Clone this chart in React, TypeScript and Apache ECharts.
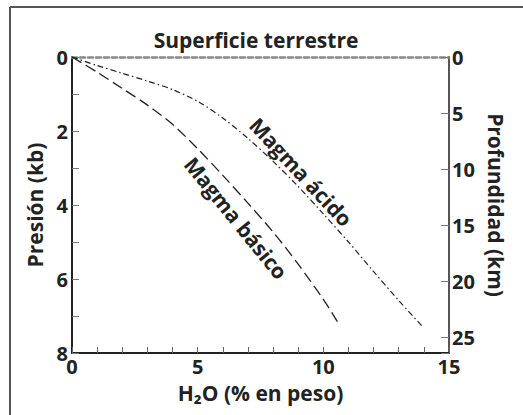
import React, { useEffect, useRef } from "react";
import * as echarts from "echarts";

const basicH2O = [0, 1, 2, 3, 4, 5, 6, 7, 8, 9, 10, 10.56];
const basicP = [0, 0.41, 0.85, 1.3, 1.82, 2.48, 3.2, 3.95, 4.73, 5.6, 6.55, 7.15];
const acidH2O = [0, 1, 2, 3, 4, 5, 6, 7, 8, 9, 10, 11, 12, 13, 13.95];
const acidP = [0, 0.23, 0.44, 0.65, 0.88, 1.2, 1.65, 2.2, 2.82, 3.5, 4.24, 5.0, 5.8, 6.58, 7.29];
const xTicks = [0, 5, 10, 15];
const pressureLabels = [0, 2, 4, 6, 8];
const depthTicks = [0, 5, 10, 15, 20, 25];

const FONT = "Open Sans";

export default function App() {
  const ref = useRef<HTMLDivElement>(null);
  useEffect(() => {
    const chart = echarts.init(ref.current!, null, { renderer: "svg" });
    const basicData = basicH2O.map((x, i) => [x, basicP[i]]);
    const acidData = acidH2O.map((x, i) => [x, acidP[i]]);
    const deg = Math.PI / 180;
    chart.setOption({
      animation: false,
      backgroundColor: "#fff",
      textStyle: { fontFamily: FONT },
      grid: { left: 72, right: 74, top: 57, bottom: 62 },
      xAxis: [
        {
          type: "value",
          min: 0,
          max: 15,
          interval: 1,
          position: "bottom",
          axisLine: { onZero: false, lineStyle: { color: "#222", width: 2 } },
          axisTick: { inside: true, length: 6, lineStyle: { color: "#666", width: 1 } },
          axisLabel: {
            formatter: (v: number) => (xTicks.includes(v) ? String(v) : ""),
            color: "#222",
            fontWeight: "bold",
            fontSize: 20,
            fontFamily: FONT,
            margin: 3,
          },
          splitLine: { show: false },
          name: "H\u2082O (% en peso)",
          nameLocation: "middle",
          nameGap: 29,
          nameTextStyle: { color: "#222", fontWeight: "bold", fontSize: 21, fontFamily: FONT, verticalAlign: "top" },
        },
        {
          type: "value",
          min: 0,
          max: 15,
          position: "top",
          axisLine: { onZero: false, lineStyle: { color: "#888", width: 2.5, type: [5, 3] } },
          axisTick: { show: false },
          axisLabel: { show: false },
          splitLine: { show: false },
        },
      ],
      yAxis: [
        {
          type: "value",
          min: 0,
          max: 8,
          interval: 1,
          inverse: true,
          position: "left",
          axisLine: { show: true, onZero: false, lineStyle: { color: "#222", width: 2 } },
          axisTick: { show: true, inside: true, length: 7, lineStyle: { color: "#777", width: 1 } },
          axisLabel: {
            formatter: (v: number) => (pressureLabels.includes(v) ? String(v) : ""),
            color: "#222",
            fontWeight: "bold",
            fontSize: 20,
            fontFamily: FONT,
            margin: 4,
          },
          splitLine: { show: false },
          name: "Presión (kb)",
          nameLocation: "middle",
          nameGap: 26,
          nameRotate: 90,
          nameTextStyle: { color: "#222", fontWeight: "bold", fontSize: 21, fontFamily: FONT },
        },
        {
          type: "value",
          min: 0,
          max: 26.4,
          interval: 5,
          inverse: true,
          position: "right",
          axisLine: { show: true, onZero: false, lineStyle: { color: "#555", width: 2 } },
          axisTick: { show: true, inside: true, length: 8, lineStyle: { color: "#777", width: 1 } },
          axisLabel: {
            formatter: (v: number) => (depthTicks.includes(v) ? String(v) : ""),
            color: "#222",
            fontWeight: "bold",
            fontSize: 20,
            fontFamily: FONT,
            margin: 3,
          },
          splitLine: { show: false },
          name: "Profundidad (km)",
          nameLocation: "middle",
          nameGap: 34,
          nameRotate: -90,
          nameTextStyle: { color: "#222", fontWeight: "bold", fontSize: 21, fontFamily: FONT },
        },
      ],
      series: [
        {
          type: "line",
          name: "Magma básico",
          xAxisIndex: 0,
          yAxisIndex: 0,
          data: basicData,
          smooth: 0.3,
          showSymbol: false,
          lineStyle: { color: "#222", width: 1.3, type: [11, 5] },
        },
        {
          type: "line",
          name: "Magma ácido",
          xAxisIndex: 0,
          yAxisIndex: 0,
          data: acidData,
          smooth: 0.3,
          showSymbol: false,
          lineStyle: { color: "#222", width: 1.2, type: [6, 3, 1.5, 3] },
        },
      ],
      graphic: [
        { type: "line", shape: { x1: 10, y1: 7, x2: 523, y2: 7 }, style: { stroke: "#555", lineWidth: 2 } },
        { type: "line", shape: { x1: 10, y1: 7, x2: 10, y2: 415 }, style: { stroke: "#555", lineWidth: 2 } },
        {
          type: "text",
          x: 256,
          y: 40,
          style: {
            text: "Superficie terrestre",
            fill: "#222",
            font: `bold 21px "${FONT}"`,
            align: "center",
            verticalAlign: "middle",
          },
        },
        {
          type: "text",
          x: 301,
          y: 172,
          rotation: -47 * deg,
          style: {
            text: "Magma ácido",
            fill: "#222",
            font: `bold 21px "${FONT}"`,
            align: "center",
            verticalAlign: "middle",
          },
        },
        {
          type: "text",
          x: 236,
          y: 218,
          rotation: -51 * deg,
          style: {
            text: "Magma básico",
            fill: "#222",
            font: `bold 21px "${FONT}"`,
            align: "center",
            verticalAlign: "middle",
          },
        },
      ],
    });
    return () => chart.dispose();
  }, []);
  return <div ref={ref} style={{ position: "fixed", left: 0, top: 0, width: 523, height: 415 }} />;
}
